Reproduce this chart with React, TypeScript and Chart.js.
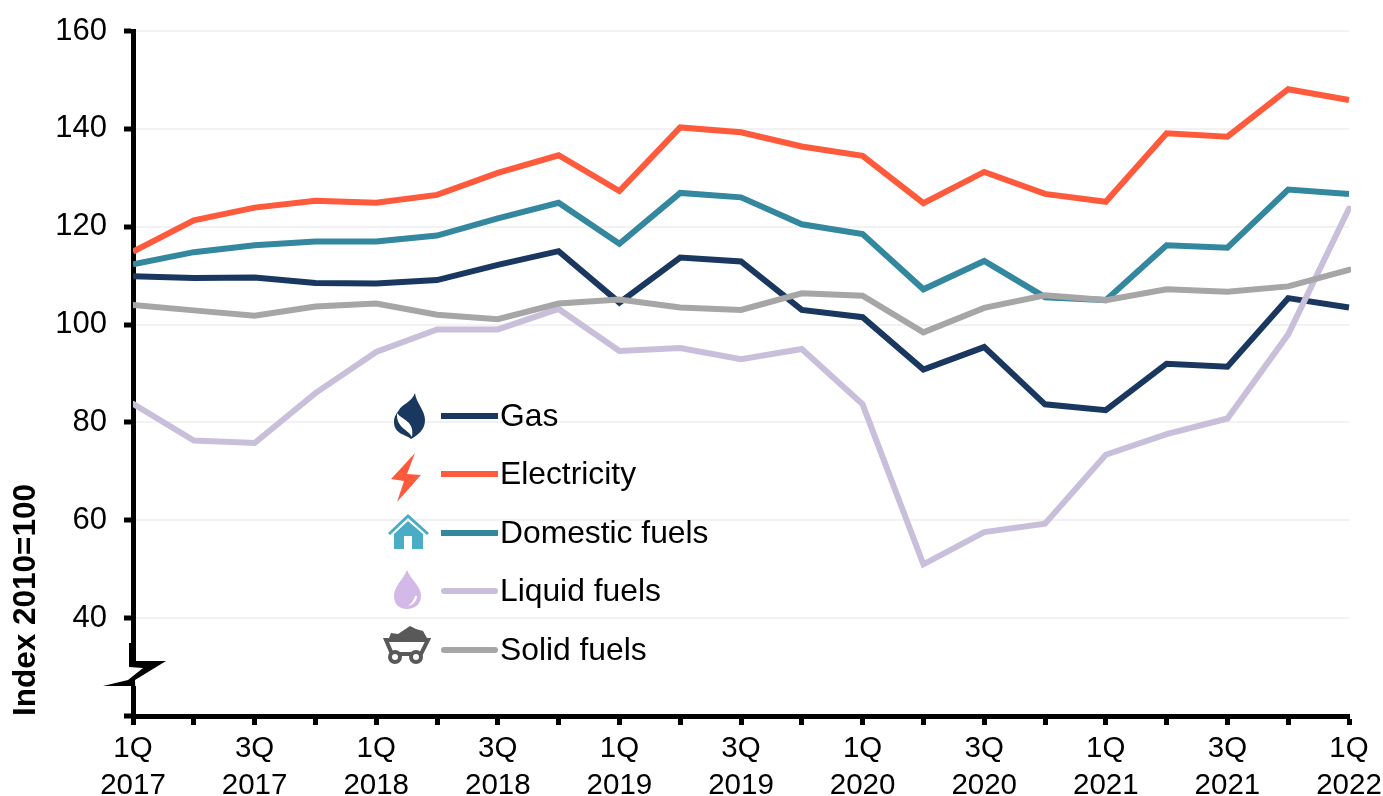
import React, { useEffect, useRef } from "react";
import { Chart, registerables } from "chart.js";

Chart.register(...registerables);

const categories: string[][] = [
  ["1Q", "2017"], ["2Q", "2017"], ["3Q", "2017"], ["4Q", "2017"],
  ["1Q", "2018"], ["2Q", "2018"], ["3Q", "2018"], ["4Q", "2018"],
  ["1Q", "2019"], ["2Q", "2019"], ["3Q", "2019"], ["4Q", "2019"],
  ["1Q", "2020"], ["2Q", "2020"], ["3Q", "2020"], ["4Q", "2020"],
  ["1Q", "2021"], ["2Q", "2021"], ["3Q", "2021"], ["4Q", "2021"],
  ["1Q", "2022"],
];

const gas = [109.9, 109.5, 109.6, 108.5, 108.4, 109.1, 112.2, 115, 104.5, 113.7, 112.9, 103, 101.5, 90.8, 95.4, 83.7, 82.5, 92, 91.4, 105.4, 103.5];
const electricity = [114.9, 121.3, 123.9, 125.3, 124.9, 126.5, 131, 134.6, 127.3, 140.3, 139.3, 136.4, 134.5, 124.8, 131.2, 126.7, 125.1, 139.1, 138.4, 148.1, 145.9];
const domestic = [112.3, 114.8, 116.2, 117, 117, 118.2, 121.7, 124.9, 116.5, 126.9, 126, 120.5, 118.5, 107.2, 113, 105.6, 105, 116.2, 115.7, 127.6, 126.7];
const liquid = [83.8, 76.3, 75.8, 86, 94.4, 99, 99, 103.2, 94.6, 95.2, 92.9, 95, 83.7, 51, 57.6, 59.3, 73.4, 77.6, 80.8, 98, 123.7];
const solid = [104, 102.9, 101.8, 103.7, 104.3, 102, 101.1, 104.3, 105.1, 103.5, 103, 106.4, 105.9, 98.4, 103.4, 106, 105, 107.2, 106.7, 107.8, 111.2];

const seriesNames = ["Gas", "Electricity", "Domestic fuels", "Liquid fuels", "Solid fuels"];
const seriesValues = [gas, electricity, domestic, liquid, solid];
const seriesColors = ["#1A3760", "#FF5A3C", "#33879F", "#C9BFDB", "#A6A6A6"];

const FONT = '"Liberation Sans", Arial, sans-serif';

const decorations = {
  id: "decorations",
  afterDraw(chart: any) {
    const ctx: CanvasRenderingContext2D = chart.ctx;
    ctx.save();

    // Axis break
    ctx.fillStyle = "#FFFFFF";
    ctx.fillRect(128, 662, 10, 24);
    ctx.fillStyle = "#000000";
    ctx.fill(new Path2D("M129 643 L135 643 L135 661 L166 661 L135 680 L136 716 L131 716 L131 686 L103 686 L128 680 L143 668 L129 667 Z"));

    // Legend
    const rows = [416, 474, 533, 591, 650];
    seriesNames.forEach((name, i) => {
      ctx.strokeStyle = seriesColors[i];
      ctx.lineWidth = 6;
      ctx.lineCap = i >= 3 ? "round" : "butt";
      ctx.beginPath();
      ctx.moveTo(i >= 3 ? 444 : 441, rows[i]);
      ctx.lineTo(i >= 3 ? 495 : 498, rows[i]);
      ctx.stroke();
      ctx.fillStyle = "#000000";
      ctx.font = `31.8px ${FONT}`;
      ctx.textAlign = "left";
      ctx.textBaseline = "middle";
      ctx.fillText(name, 500, rows[i] + 1);
    });

    // Flame icon
    ctx.fillStyle = "#1A3760";
    ctx.fill(new Path2D("M415 393 C416 403 425 410 425 420 C425 430 418 435 411 439 C405 434 394 434 394 422 C394 416 397 413 399 410 C401 405 412 402 415 393 Z"));
    ctx.fillStyle = "#FFFFFF";
    ctx.fill(new Path2D("M397 413 C402 420 415 421 412 437 C408 429 396 428 397 413 Z"));

    // Lightning icon
    ctx.fillStyle = "#FF5A3C";
    ctx.fill(new Path2D("M415 453 L391 479 L404 481 L397 502 L421 475 L407 474 Z"));

    // House icon
    ctx.fillStyle = "#4BACC6";
    ctx.fill(new Path2D("M408 514 L429 533 L427 535 L408 518 L390 535 L388 533 Z"));
    ctx.fill(new Path2D("M408 521 L423 534 L423 549 L412 549 L412 536 L404 536 L404 549 L394 549 L394 534 Z"));

    // Drop icon
    ctx.fillStyle = "#D2B9E8";
    ctx.fill(new Path2D("M407 570 C411 580 421 586 421 596 C421 604 415 609 407 609 C399 609 394 604 394 596 C394 586 403 580 407 570 Z"));
    ctx.fillStyle = "#FFFFFF";
    ctx.fill(new Path2D("M417 596 C417 601 413 605 408 606 C412 603 414 600 415 596 Z"));

    // Coal cart icon
    ctx.fillStyle = "#595959";
    ctx.fill(new Path2D("M389 638 L391 633 L398 634 L404 630 L410 626 L416 629 L423 631 L427 638 Z"));
    ctx.strokeStyle = "#595959";
    ctx.lineCap = "butt";
    ctx.lineWidth = 4;
    ctx.stroke(new Path2D("M386 640 L428 640 L421 654 L392 654 Z"));
    ctx.fillStyle = "#FFFFFF";
    ctx.beginPath(); ctx.arc(395, 657, 5, 0, Math.PI * 2); ctx.fill(); ctx.stroke();
    ctx.beginPath(); ctx.arc(416, 657, 5, 0, Math.PI * 2); ctx.fill(); ctx.stroke();

    ctx.restore();
  },
};

export default function App() {
  const ref = useRef<HTMLCanvasElement>(null);

  useEffect(() => {
    if (!ref.current) return;
    const chart = new Chart(ref.current, {
      type: "line",
      data: {
        labels: categories,
        datasets: seriesNames.map((name, i) => ({
          label: name,
          data: seriesValues[i],
          borderColor: seriesColors[i],
          backgroundColor: seriesColors[i],
          borderWidth: 6,
          borderCapStyle: i >= 3 ? "round" : "butt",
          borderJoinStyle: "miter",
          pointRadius: 0,
          tension: 0,
          order: seriesNames.length - i,
          clip: { left: 0, top: 0, right: 2, bottom: 0 } as any,
        })),
      },
      options: {
        animation: false,
        responsive: false,
        layout: { autoPadding: false, padding: { top: 31, right: 34, left: 0, bottom: 0 } },
        plugins: { legend: { display: false }, tooltip: { enabled: false } },
        scales: {
          x: {
            type: "category",
            offset: false,
            afterFit(scale: any) {
              scale.height = 80;
              scale.paddingLeft = 0;
              scale.paddingRight = 0;
            },
            border: { color: "#000000", width: 5 },
            grid: { drawOnChartArea: false, color: "#000000", tickColor: "#000000", tickLength: 9, tickWidth: 5 },
            ticks: {
              autoSkip: false,
              maxRotation: 0,
              minRotation: 0,
              color: "#000000",
              padding: 6,
              font: { family: FONT, size: 29.5, lineHeight: 1.23 },
              callback(_v: any, index: number) {
                return index % 2 === 0 ? categories[index] : "";
              },
            },
          },
          y: {
            min: 20,
            max: 160,
            afterFit(scale: any) {
              scale.width = 133;
              scale.paddingTop = 0;
              scale.paddingBottom = 0;
            },
            border: { color: "#000000", width: 5 },
            grid: { color: "#F2F2F2", lineWidth: 2, tickColor: "#000000", tickLength: 9, tickWidth: 5 },
            ticks: {
              stepSize: 20,
              color: "#000000",
              padding: 17,
              font: { family: FONT, size: 31 },
              callback(v: any) { return v === 20 ? "" : String(v); },
            },
            title: {
              display: true,
              text: "Index 2010=100",
              align: "start",
              color: "#000000",
              padding: { top: 7, bottom: 0 },
              font: { family: FONT, size: 31.5, weight: "bold", lineHeight: 1.2 },
            },
          },
        },
      },
      plugins: [decorations],
    } as any);
    return () => chart.destroy();
  }, []);

  return (
    <canvas
      ref={ref}
      width={1383}
      height={796}
      style={{ position: "absolute", left: 0, top: 0, width: 1383, height: 796, background: "#FFFFFF" }}
    />
  );
}
